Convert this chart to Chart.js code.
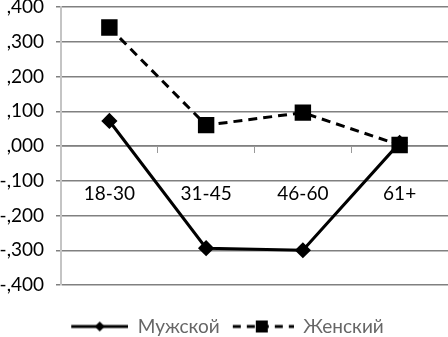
<!DOCTYPE html>
<html><head><meta charset="utf-8">
<script src="https://cdn.jsdelivr.net/npm/chart.js@4"></script>
<style>html,body{margin:0;padding:0;background:#fff}#w{width:448px;height:337px}</style>
</head><body><div id="w"><canvas id="c"></canvas></div>
<script>
const categories = ['18-30','31-45','46-60','61+'];
const maleValues = [0.072, -0.294, -0.300, 0.009];
const femaleValues = [0.341, 0.060, 0.096, 0.003];
const seriesNames = ['Мужской','Женский'];
const yTicks = [0.4,0.3,0.2,0.1,0,-0.1,-0.2,-0.3,-0.4];

function fmt(v){
  const s = Math.abs(v).toFixed(3).replace('0.', ',');
  return (v < -1e-9 ? '-' : '') + s;
}
// legend swatch: line (solid/dashed) with marker, drawn on a small canvas
function legendIcon(dashed, style, w, x0){
  const cv = document.createElement('canvas');
  cv.width = w; cv.height = 14;
  const g = cv.getContext('2d');
  g.strokeStyle = '#000'; g.fillStyle = '#000'; g.lineWidth = 3;
  if (dashed) g.setLineDash([8,6]);
  g.beginPath(); g.moveTo(x0 + (dashed?3:0),7); g.lineTo(w,7); g.stroke();
  g.setLineDash([]);
  const c = (x0 + w)/2;
  if (style === 'diamond'){
    g.beginPath(); g.moveTo(c,2); g.lineTo(c+5,7); g.lineTo(c,12); g.lineTo(c-5,7); g.closePath(); g.fill();
  } else {
    g.fillRect(c-6,1,12,12);
  }
  return cv;
}
const icons = [legendIcon(false,'diamond',64,7), legendIcon(true,'square',64,0)];

new Chart(document.getElementById('c'), {
  type: 'line',
  data: {
    labels: categories,
    datasets: [
      {label: seriesNames[0], data: maleValues, borderColor:'#000', backgroundColor:'#000', borderWidth:3,
       pointStyle:'rectRot', pointRadius:6, pointHoverRadius:6, tension:0},
      {label: seriesNames[1], data: femaleValues, borderColor:'#000', backgroundColor:'#000', borderWidth:3,
       borderDash:[9,6], pointStyle:'rect', pointRadius:9.5, pointHoverRadius:9.5, tension:0}
    ]
  },
  options: {
    responsive:true, maintainAspectRatio:false, animation:false,
    layout:{autoPadding:false, padding:{top:7,right:0,left:0,bottom:-9}},
    plugins:{
      tooltip:{enabled:false},
      legend:{position:'bottom',
        title:{display:true, text:' ', font:{size:10}, padding:{top:10,bottom:0}},
        labels:{
        font:{family:'Lato', size:19}, color:'#000', usePointStyle:true, pointStyleWidth:64, padding:10,
        generateLabels(chart){
          return chart.data.datasets.map((d,i)=>({text:d.label, pointStyle:icons[i], datasetIndex:i,
            fillStyle:'#000', strokeStyle:'#000', lineWidth:0, hidden:false}));
        }
      }}
    },
    scales:{
      x:{
        position:{y:0}, offset:true,
        afterFit(s){ s.paddingLeft=0; s.paddingRight=0; },
        grid:{display:true, drawOnChartArea:false, drawTicks:true, tickLength:6, color:'#999', offset:true},
        border:{display:true, color:'#999', width:1},
        ticks:{font:{family:'Lato', size:19}, color:'#000', padding:30, maxRotation:0}
      },
      y:{
        min:-0.4, max:0.4,
        afterFit(s){ s.width = 61; s.paddingTop=0; s.paddingBottom=0; },
        afterBuildTicks(s){ s.ticks = yTicks.map(v=>({value:v})); },
        grid:{color:'#808080', lineWidth:1.5, tickLength:5},
        border:{display:true, color:'#c4c4c4', width:2},
        ticks:{font:{family:'Lato', size:19}, color:'#000', padding:12, callback:(v)=>fmt(v)}
      }
    }
  }
});
</script></body></html>
